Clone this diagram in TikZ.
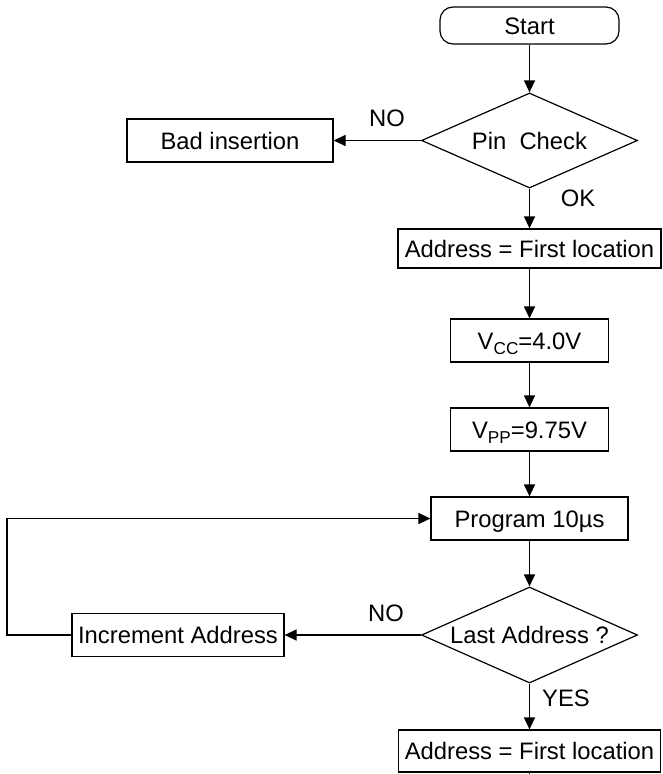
\documentclass[tikz,border=0pt]{standalone}
\usepackage{fontspec}
\setmainfont{Liberation Sans}
\usetikzlibrary{arrows.meta,shapes.geometric}
\newcommand{\subsc}[1]{\raisebox{-5.5pt}{\fontsize{17.2}{17.2}\selectfont #1}}
\tikzset{
  base/.style={draw=black, line width=1.2pt, inner sep=0pt, font=\fontsize{23.8}{28}\selectfont, text height=17pt, text depth=0pt, align=center},
  boxn/.style={base, rectangle},
  termn/.style={base, rectangle, rounded corners=13pt},
  decn/.style={base, diamond, shape aspect=2.3},
  lbl/.style={inner sep=0pt, font=\fontsize{23.8}{28}\selectfont},
  arr/.style={line width=1.2pt, -{Triangle[length=12pt,width=11pt]}},
  ln/.style={line width=1.2pt}
}
\begin{document}
\begin{tikzpicture}[x=1pt,y=-1pt]
\useasboundingbox (0,0) rectangle (662,774);
\node[termn, minimum width=179pt, minimum height=37pt] (start) at (529.5,25.5) {Start};
\node[decn, minimum width=216pt, minimum height=95pt] (pin) at (529.5,140.5) {Pin\ \ Check};
\node[boxn, minimum width=206pt, minimum height=43pt] (bad) at (230,140.5) {Bad insertion};
\node[boxn, minimum width=263pt, minimum height=39pt] (addr1) at (529.5,248.5) {Address = First location};
\node[boxn, minimum width=158pt, minimum height=43pt] (vcc) at (529.5,340.5) {V\subsc{CC}=4.0V};
\node[boxn, minimum width=158pt, minimum height=43pt] (vpp) at (529.5,429.5) {V\subsc{PP}=9.75V};
\node[boxn, minimum width=197pt, minimum height=43pt] (prog) at (529.5,518.5) {Program 10µs};
\node[decn, minimum width=216pt, minimum height=96pt] (last) at (529.5,635) {Last Address ?};
\node[boxn, minimum width=212pt, minimum height=43pt] (inc) at (178,635) {Increment Address};
\node[boxn, minimum width=262pt, minimum height=42pt] (addr2) at (529.5,751) {Address = First location};

\node[lbl] (no1) at (387,118) {NO};
\node[lbl] (ok) at (578,198) {OK};
\node[lbl] (no2) at (386,613) {NO};
\node[lbl] (yes) at (566,698) {YES};

\coordinate (loopc) at (7,635);
\coordinate (endc) at (529.5,774);

\draw[arr] (start.south) -- (pin.north);
\draw[arr] (pin.west) -- (bad.east);
\draw[arr] (pin.south) -- (addr1.north);
\draw[arr] (addr1.south) -- (vcc.north);
\draw[arr] (vcc.south) -- (vpp.north);
\draw[arr] (vpp.south) -- (prog.north);
\draw[arr] (prog.south) -- (last.north);
\draw[arr] (last.west) -- (inc.east);
\draw[arr] (inc.west) -- (loopc) |- (prog.west);
\draw[arr] (last.south) -- (addr2.north);
\draw[ln] (addr2.south) -- (endc);
\end{tikzpicture}
\end{document}
